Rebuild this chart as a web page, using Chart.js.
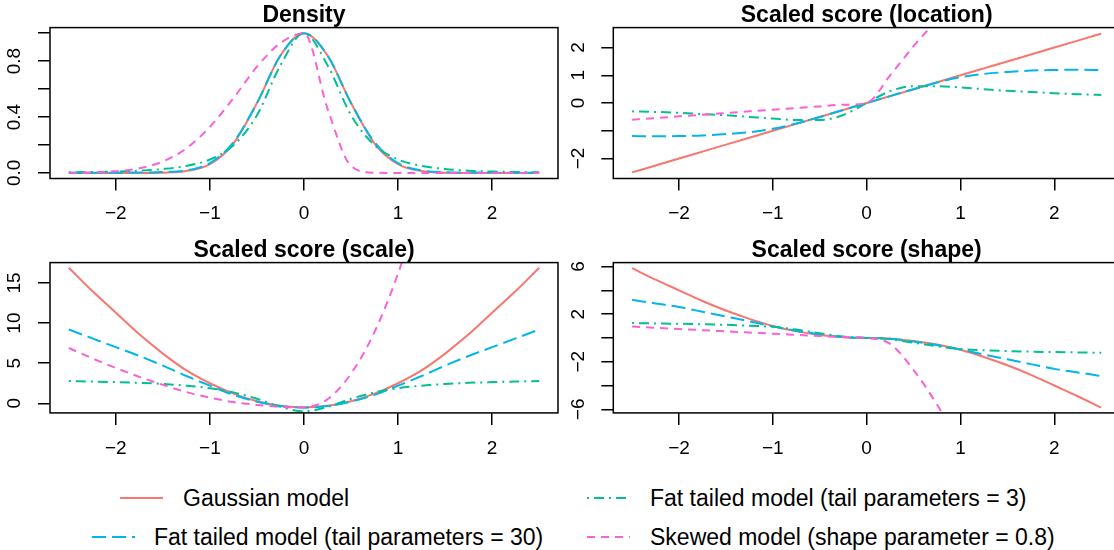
<!DOCTYPE html>
<html>
<head>
<meta charset="utf-8">
<title>Scaled scores</title>
<script src="https://cdn.jsdelivr.net/npm/chart.js"></script>
<style>
  body { margin: 0; background: #fff; }
  #page { position: relative; width: 1114px; height: 550px; overflow: hidden; font-family: "Liberation Sans", Arial, sans-serif; }
  #page canvas { position: absolute; }
  .key { position: absolute; font-size: 23px; line-height: 26px; white-space: nowrap; color: #000; }
  .sample { position: absolute; }
</style>
</head>
<body>
<div id="page">
  <canvas id="density" width="570" height="240" style="left:0;top:0"></canvas>
  <canvas id="location" width="575" height="240" style="left:557px;top:0"></canvas>
  <canvas id="scale" width="570" height="240" style="left:0;top:235.4px"></canvas>
  <canvas id="shape" width="575" height="240" style="left:557px;top:235.4px"></canvas>
</div>

<script>
    // values
    const xs = [-2.5, -2.25, -2, -1.75, -1.5, -1.25, -1, -0.75, -0.5, -0.25, 0, 0.25, 0.5, 0.75, 1, 1.25, 1.5, 1.75, 2, 2.25, 2.5];

    const modelNames = ['Gaussian model', 'Fat tailed model (tail parameters = 30)', 'Fat tailed model (tail parameters = 3)', 'Skewed model (shape parameter = 0.8)'];
    const modelColors = ['#F8766D', '#00B6EB', '#00C094', '#FB61D7'];
    const modelDashes = [[], [14, 6], [2, 5, 10, 5], [8, 6]];

    const densGauss = [0, 0, 0, 0, 0.002, 0.013, 0.062, 0.21, 0.5, 0.84, 1, 0.84, 0.5, 0.21, 0.062, 0.013, 0.002, 0, 0, 0, 0];
    const densFat30 = [0.001, 0.001, 0.002, 0.003, 0.006, 0.018, 0.07, 0.22, 0.5, 0.84, 1, 0.84, 0.5, 0.22, 0.07, 0.018, 0.006, 0.003, 0.002, 0.001, 0.001];
    const densFat3 = [0.0045, 0.0067, 0.01, 0.016, 0.028, 0.05, 0.096, 0.198, 0.413, 0.771, 1, 0.771, 0.413, 0.198, 0.096, 0.05, 0.028, 0.016, 0.01, 0.0067, 0.0045];
    const densSkew = [0.001, 0.004, 0.012, 0.033, 0.082, 0.176, 0.33, 0.535, 0.76, 0.93, 1, 0.46, 0.05, 0.001, 0, 0, 0, 0, 0, 0, 0];

    const locGauss = [-2.5, -2.25, -2, -1.75, -1.5, -1.25, -1, -0.75, -0.5, -0.25, 0, 0.25, 0.5, 0.75, 1, 1.25, 1.5, 1.75, 2, 2.25, 2.5];
    const locFat30 = [-1.19, -1.2, -1.19, -1.17, -1.12, -1.05, -0.93, -0.74, -0.5, -0.25, 0, 0.25, 0.5, 0.74, 0.93, 1.05, 1.12, 1.17, 1.19, 1.2, 1.19];
    const locFat3 = [-0.3, -0.32, -0.355, -0.4, -0.44, -0.5, -0.56, -0.61, -0.61, -0.43, 0, 0.43, 0.61, 0.61, 0.56, 0.5, 0.44, 0.4, 0.355, 0.32, 0.29];
    const locSkew = [-0.6, -0.54, -0.48, -0.42, -0.36, -0.3, -0.24, -0.18, -0.12, -0.06, 0, 1.0, 2.05, 3.0, 4.0, null, null, null, null, null, null];

    const scaleGauss = [16.9, 14.0, 11.3, 8.6, 6.2, 4.1, 2.5, 1.2, 0.25, -0.3, -0.5, -0.3, 0.25, 1.2, 2.5, 4.1, 6.2, 8.6, 11.3, 14.0, 16.9];
    const scaleFat30 = [9.2, 8.1, 7.0, 5.9, 4.7, 3.4, 2.2, 1.05, 0.2, -0.33, -0.55, -0.33, 0.2, 1.05, 2.2, 3.4, 4.7, 5.9, 7.0, 8.1, 9.2];
    const scaleFat3 = [2.77, 2.71, 2.64, 2.55, 2.41, 2.2, 1.88, 1.36, 0.56, -0.45, -1.0, -0.45, 0.56, 1.36, 1.88, 2.2, 2.41, 2.55, 2.64, 2.71, 2.77];
    const scaleSkew = [6.9, 5.6, 4.4, 3.3, 2.3, 1.4, 0.7, 0.15, -0.2, -0.45, -0.5, 0.5, 3.7, 8.9, 16.2, 25.5, null, null, null, null, null];

    const shapeGauss = [5.86, 4.9, 4.0, 3.1, 2.3, 1.6, 1.0, 0.55, 0.25, 0.06, 0, -0.06, -0.25, -0.55, -1.0, -1.6, -2.3, -3.1, -4.0, -4.9, -5.86];
    const shapeFat30 = [3.2, 2.9, 2.6, 2.2, 1.8, 1.4, 0.97, 0.6, 0.3, 0.07, 0, -0.07, -0.3, -0.6, -0.97, -1.4, -1.8, -2.2, -2.6, -2.9, -3.2];
    const shapeFat3 = [1.25, 1.22, 1.19, 1.15, 1.1, 1.03, 0.93, 0.7, 0.4, 0.12, 0, -0.12, -0.4, -0.7, -0.93, -1.03, -1.1, -1.15, -1.19, -1.22, -1.25];
    const shapeSkew = [0.95, 0.85, 0.75, 0.65, 0.55, 0.45, 0.36, 0.26, 0.16, 0.07, 0, -0.5, -2.7, -5.6, -9.0, null, null, null, null, null, null];

    // axis ticks and their labels (R leaves some ticks unlabelled)
    const xTicks = [-2, -1, 0, 1, 2];
    const xTickLabels = ['\u22122', '\u22121', '0', '1', '2'];
    const densTicks = [0, 0.2, 0.4, 0.6, 0.8, 1];
    const densTickLabels = ['0.0', '', '0.4', '', '0.8', ''];
    const locTicks = [-2, -1, 0, 1, 2];
    const locTickLabels = ['\u22122', '', '0', '1', '2'];
    const scaleTicks = [0, 5, 10, 15];
    const scaleTickLabels = ['0', '5', '10', '15'];
    const shapeTicks = [-6, -4, -2, 0, 2, 4, 6];
    const shapeTickLabels = ['\u22126', '', '\u22122', '', '2', '', '6'];

    const FONT = '"Liberation Sans", Arial, sans-serif';

    // R style box round the plot region
    const boxPlugin = {
        id: 'box',
        afterDraw(chart) {
            const a = chart.chartArea;
            const ctx = chart.ctx;
            ctx.save();
            ctx.strokeStyle = '#000';
            ctx.lineWidth = 1.5;
            ctx.strokeRect(a.left, a.top, a.right - a.left, a.bottom - a.top);
            ctx.restore();
        }
    };

    function makePanel(id, title, series, yMin, yMax, yTicks, yLabels, yWidth, yPad, xHeight) {
        const ctx = document.getElementById(id).getContext('2d');
        return new Chart(ctx, {
            type: 'line',
            data: {
                datasets: series.map((s, i) => ({
                    label: modelNames[i],
                    data: xs.map((x, j) => ({ x: x, y: s[j] })),
                    borderColor: modelColors[i],
                    borderDash: modelDashes[i],
                    borderWidth: 2,
                    pointRadius: 0,
                    fill: false,
                    cubicInterpolationMode: 'monotone',
                    spanGaps: false,
                    order: 4 - i
                }))
            },
            options: {
                responsive: false,
                animation: false,
                devicePixelRatio: 1,
                events: [],
                layout: { padding: { top: 0, right: 12, bottom: 0, left: 0 } },
                plugins: {
                    legend: { display: false },
                    tooltip: { enabled: false },
                    title: {
                        display: true,
                        text: title,
                        fullSize: false,
                        color: '#000',
                        padding: { top: 1.5, bottom: -1.5 },
                        font: { family: FONT, size: 23, weight: 'bold', lineHeight: 1.2 }
                    }
                },
                scales: {
                    x: {
                        type: 'linear',
                        min: -2.7,
                        max: 2.7,
                        afterBuildTicks: s => { s.ticks = xTicks.map(v => ({ value: v })); },
                        afterFit: s => { s.height = xHeight; },
                        grid: { drawOnChartArea: false, drawTicks: true, tickLength: 12, color: '#000', lineWidth: 1.5 },
                        border: { display: false },
                        ticks: {
                            color: '#000',
                            padding: 12,
                            maxRotation: 0,
                            font: { family: FONT, size: 19 },
                            callback: (v, i) => xTickLabels[i]
                        }
                    },
                    y: {
                        type: 'linear',
                        min: yMin,
                        max: yMax,
                        afterBuildTicks: s => { s.ticks = yTicks.map(v => ({ value: v })); },
                        afterFit: s => { s.width = yWidth; },
                        grid: { drawOnChartArea: false, drawTicks: true, tickLength: 12, color: '#000', lineWidth: 1.5 },
                        border: { display: false },
                        ticks: {
                            color: '#000',
                            padding: yPad,
                            minRotation: 90,
                            maxRotation: 90,
                            crossAlign: 'center',
                            font: { family: FONT, size: 19 },
                            callback: (v, i) => yLabels[i]
                        }
                    }
                }
            },
            plugins: [boxPlugin]
        });
    }

    makePanel('density', 'Density', [densGauss, densFat30, densFat3, densSkew],
        -0.04, 1.04, densTicks, densTickLabels, 50, 9.8, 61.5);
    makePanel('location', 'Scaled score (location)', [locGauss, locFat30, locFat3, locSkew],
        -2.72, 2.72, locTicks, locTickLabels, 56.3, 12.2, 61.5);
    makePanel('scale', 'Scaled score (scale)', [scaleGauss, scaleFat30, scaleFat3, scaleSkew],
        -1.2, 17.55, scaleTicks, scaleTickLabels, 50, 12.4, 62.1);
    makePanel('shape', 'Scaled score (shape)', [shapeGauss, shapeFat30, shapeFat3, shapeSkew],
        -6.3, 6.33, shapeTicks, shapeTickLabels, 56.3, 12.2, 62.1);

    // legend: two columns, drawn as html text with small line samples
    const legendSpots = [[120, 183, 498], [92, 154, 537], [587, 650, 498], [587, 650, 537]];
    const page = document.getElementById('page');
    legendSpots.forEach((p, i) => {
        const svgNS = 'http://www.w3.org/2000/svg';
        const svg = document.createElementNS(svgNS, 'svg');
        svg.setAttribute('class', 'sample');
        svg.setAttribute('width', 44);
        svg.setAttribute('height', 6);
        svg.style.left = p[0] + 'px';
        svg.style.top = (p[2] - 3) + 'px';
        const line = document.createElementNS(svgNS, 'line');
        line.setAttribute('x1', 0);
        line.setAttribute('x2', 43);
        line.setAttribute('y1', 3);
        line.setAttribute('y2', 3);
        line.setAttribute('stroke', modelColors[i]);
        line.setAttribute('stroke-width', 2);
        if (modelDashes[i].length) line.setAttribute('stroke-dasharray', modelDashes[i].join(' '));
        svg.appendChild(line);
        page.appendChild(svg);

        const label = document.createElement('div');
        label.className = 'key';
        label.style.left = p[1] + 'px';
        label.style.top = (p[2] - 13) + 'px';
        label.textContent = modelNames[i];
        page.appendChild(label);
    });
</script>
</body>
</html>
